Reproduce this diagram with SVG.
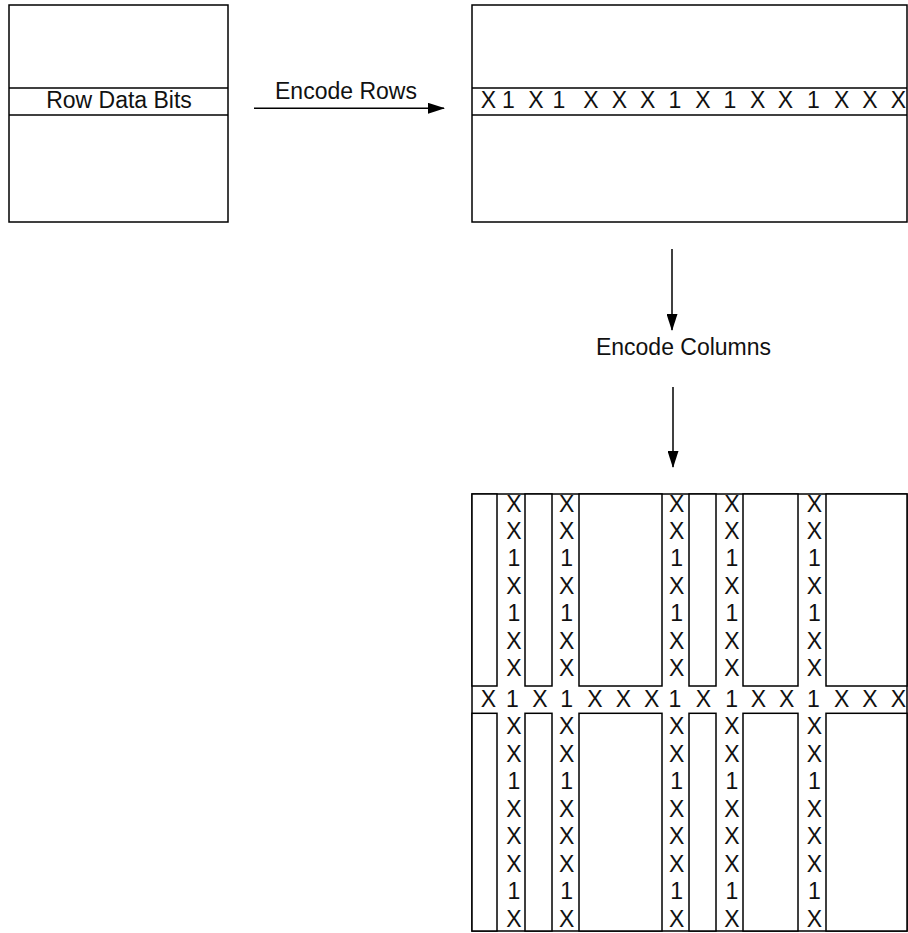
<svg xmlns="http://www.w3.org/2000/svg" width="908" height="933" viewBox="0 0 908 933">
<defs>
<style>
.box{fill:#fff;stroke:#000;stroke-width:1.5}
.ln{fill:none;stroke:#000;stroke-width:1.5}
.t{font-family:"Liberation Sans",Arial,Helvetica,sans-serif;font-size:23px;fill:#111}
.m{text-anchor:middle}
</style>
<marker id="ah" viewBox="0 0 17 11" refX="16" refY="5.5" markerWidth="17" markerHeight="11" markerUnits="userSpaceOnUse" orient="auto">
<path d="M0,0 L17,5.5 L0,11 z" fill="#000"/>
</marker>
</defs>
<rect width="908" height="933" fill="#fff"/>

<g id="input-matrix">
<rect class="box" x="9" y="5" width="219" height="217"/>
<line class="ln" x1="9" y1="88" x2="228" y2="88"/>
<line class="ln" x1="9" y1="115" x2="228" y2="115"/>
<text class="t m" x="119" y="108">Row Data Bits</text>
</g>

<g id="row-encoded-matrix">
<rect class="box" x="472" y="5" width="435" height="217"/>
<line class="ln" x1="472" y1="88" x2="907" y2="88"/>
<line class="ln" x1="472" y1="115" x2="907" y2="115"/>
<text class="t m" x="488.3 508.3 536 559 591 619.3 647.7 675 703 730 757.7 785.3 813.3 841.7 870 898.3" y="108.3">X1X1XXX1X1XX1XXX</text>
</g>

<g id="connectors">
<line class="ln" x1="254" y1="108.3" x2="444" y2="108.3" marker-end="url(#ah)"/>
<text class="t m" x="346" y="99">Encode Rows</text>
<line class="ln" x1="672" y1="249" x2="672" y2="330" marker-end="url(#ah)"/>
<text class="t m" x="683.5" y="355">Encode Columns</text>
<line class="ln" x1="673" y1="387" x2="673" y2="467" marker-end="url(#ah)"/>
</g>

<g id="fully-encoded-matrix">
<rect class="box" x="472" y="494" width="435" height="437"/>
<rect class="box" x="472" y="494" width="25" height="192"/>
<rect class="box" x="525" y="494" width="27" height="192"/>
<rect class="box" x="579" y="494" width="83" height="192"/>
<rect class="box" x="689" y="494" width="27" height="192"/>
<rect class="box" x="743" y="494" width="55" height="192"/>
<rect class="box" x="826" y="494" width="81" height="192"/>
<rect class="box" x="472" y="713.3" width="25" height="217.7"/>
<rect class="box" x="525" y="713.3" width="27" height="217.7"/>
<rect class="box" x="579" y="713.3" width="83" height="217.7"/>
<rect class="box" x="689" y="713.3" width="27" height="217.7"/>
<rect class="box" x="743" y="713.3" width="55" height="217.7"/>
<rect class="box" x="826" y="713.3" width="81" height="217.7"/>
<text class="t m" x="488.3 512.3 540 566.7 595 623.3 651.7 675 703.3 731.7 758.3 786.7 813.3 841.7 870 898.3" y="706.7">X1X1XXX1X1XX1XXX</text>
<text class="t m" x="514 514 514 514 514 514 514" y="511.5 539 566.4 593.9 621.3 648.8 676.2">XX1X1XX</text>
<text class="t m" x="566.7 566.7 566.7 566.7 566.7 566.7 566.7" y="511.5 539 566.4 593.9 621.3 648.8 676.2">XX1X1XX</text>
<text class="t m" x="676.7 676.7 676.7 676.7 676.7 676.7 676.7" y="511.5 539 566.4 593.9 621.3 648.8 676.2">XX1X1XX</text>
<text class="t m" x="732 732 732 732 732 732 732" y="511.5 539 566.4 593.9 621.3 648.8 676.2">XX1X1XX</text>
<text class="t m" x="814.3 814.3 814.3 814.3 814.3 814.3 814.3" y="511.5 539 566.4 593.9 621.3 648.8 676.2">XX1X1XX</text>
<text class="t m" x="514 514 514 514 514 514 514 514" y="734 761.5 789 816.5 844 871.5 899 926.5">XX1XXX1X</text>
<text class="t m" x="566.7 566.7 566.7 566.7 566.7 566.7 566.7 566.7" y="734 761.5 789 816.5 844 871.5 899 926.5">XX1XXX1X</text>
<text class="t m" x="676.7 676.7 676.7 676.7 676.7 676.7 676.7 676.7" y="734 761.5 789 816.5 844 871.5 899 926.5">XX1XXX1X</text>
<text class="t m" x="732 732 732 732 732 732 732 732" y="734 761.5 789 816.5 844 871.5 899 926.5">XX1XXX1X</text>
<text class="t m" x="814.3 814.3 814.3 814.3 814.3 814.3 814.3 814.3" y="734 761.5 789 816.5 844 871.5 899 926.5">XX1XXX1X</text>
</g>
</svg>
